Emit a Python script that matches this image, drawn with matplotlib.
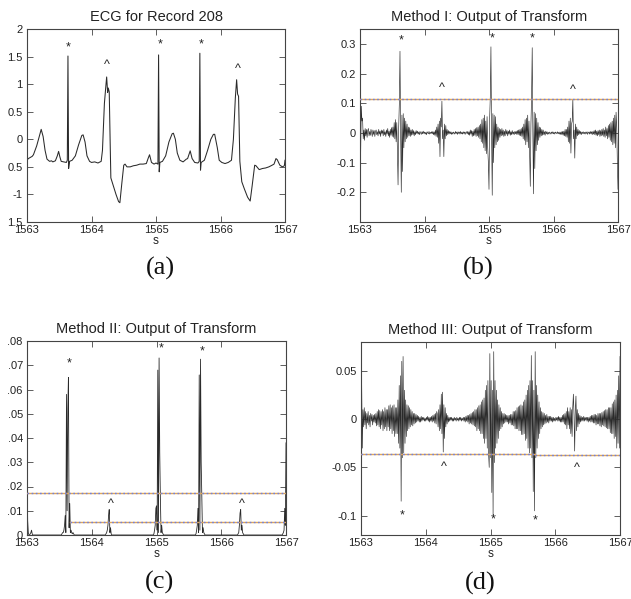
import matplotlib
matplotlib.use("Agg")
import matplotlib.pyplot as plt
import numpy as np

plt.rcParams["font.family"] = ["Liberation Sans", "DejaVu Sans"]

T0 = 1563.0
DT = 0.01  # sample step of the transform outputs (s)

# (a) ECG trace, breakpoints
ecg_t = [1563.00, 1563.02, 1563.05, 1563.08, 1563.10, 1563.15, 1563.19, 1563.22, 1563.25,
         1563.28, 1563.31, 1563.35, 1563.38, 1563.40, 1563.44, 1563.47, 1563.49, 1563.51,
         1563.53, 1563.57, 1563.61, 1563.625, 1563.635, 1563.645, 1563.66, 1563.70,
         1563.75, 1563.80, 1563.85, 1563.87, 1563.90, 1563.93, 1563.97, 1564.00, 1564.05,
         1564.10, 1564.15, 1564.17, 1564.20, 1564.225, 1564.235, 1564.25, 1564.26, 1564.275,
         1564.29, 1564.30, 1564.34, 1564.38, 1564.42, 1564.44, 1564.47, 1564.50, 1564.52,
         1564.55, 1564.60, 1564.65, 1564.70, 1564.75, 1564.80, 1564.85, 1564.88, 1564.90,
         1564.93, 1564.97, 1565.00, 1565.03, 1565.04, 1565.05, 1565.06, 1565.10, 1565.15,
         1565.20, 1565.25, 1565.27, 1565.30, 1565.33, 1565.37, 1565.42, 1565.47, 1565.49,
         1565.53, 1565.56, 1565.60, 1565.65, 1565.67, 1565.68, 1565.69, 1565.70, 1565.75,
         1565.80, 1565.85, 1565.89, 1565.91, 1565.95, 1565.98, 1566.02, 1566.07, 1566.12,
         1566.17, 1566.20, 1566.23, 1566.25, 1566.265, 1566.28, 1566.30, 1566.33, 1566.37,
         1566.42, 1566.46, 1566.49, 1566.53, 1566.55, 1566.60, 1566.65, 1566.70, 1566.75,
         1566.80, 1566.83, 1566.86, 1566.88, 1566.92, 1566.96, 1566.99, 1567.00]
ecg_v = [-0.38, -0.35, -0.33, -0.31, -0.28, -0.12, 0.05, 0.18, 0.05,
         -0.20, -0.36, -0.40, -0.39, -0.41, -0.39, -0.30, -0.22, -0.32,
         -0.40, -0.41, -0.42, -0.38, 1.51, -0.53, -0.40, -0.38,
         -0.30, -0.10, 0.07, 0.08, -0.05, -0.30, -0.40, -0.42, -0.41,
         -0.43, -0.40, -0.20, 0.65, 1.00, 1.13, 0.85, 0.93, 0.86,
         -0.10, -0.70, -0.85, -1.00, -1.13, -1.15, -0.80, -0.47, -0.45,
         -0.50, -0.50, -0.48, -0.47, -0.45, -0.45, -0.44, -0.34, -0.28,
         -0.42, -0.45, -0.43, -0.45, 1.53, -0.59, -0.42, -0.40, -0.30,
         -0.05, 0.10, 0.11, 0.00, -0.25, -0.38, -0.41, -0.36, -0.35,
         -0.21, -0.35, -0.42, -0.43, -0.40, 1.56, -0.56, -0.42, -0.38,
         -0.20, 0.00, 0.09, 0.09, -0.15, -0.38, -0.42, -0.44, -0.42,
         -0.38, 0.00, 0.75, 1.08, 0.82, 0.78, -0.40, -0.77, -0.90,
         -1.05, -1.12, -0.85, -0.47, -0.48, -0.55, -0.53, -0.52, -0.50,
         -0.47, -0.45, -0.35, -0.37, -0.47, -0.50, -0.48, -0.38]

# (b) Method I output, one value per 10 ms from 1563.00
m1_v = [
    -0.24, -0.08, 0.09, 0.04, 0.05, -0.02, 0.01, -0.025, 0.015, -0.01,
    0.012, -0.015, 0.008, 0.015, -0.01, 0.005, -0.008, 0.012, 0.002, -0.012,
    0.01, -0.005, 0.008, -0.012, 0.005, 0.01, -0.006, 0.004, -0.01, 0.012,
    -0.004, 0.006, -0.012, 0.01, -0.002, 0.008, -0.01, 0.012, -0.006, 0.004,
    -0.012, 0.01, -0.004, 0.015, -0.01, 0.006, -0.015, 0.012, -0.008, 0.018,
    -0.012, 0.02, -0.015, 0.035, -0.02, 0.045, -0.03, 0.035, -0.06, -0.175,
    0.02, 0.1, 0.275, 0.0, -0.2, 0.06, -0.13, 0.065, -0.05, 0.05,
    -0.03, 0.04, -0.02, 0.03, -0.015, 0.02, -0.01, 0.018, -0.012, 0.01,
    -0.008, 0.012, -0.006, 0.008, -0.01, 0.004, -0.006, 0.008, -0.002, 0.006,
    -0.004, 0.003, -0.006, 0.005, 0.0, -0.005, 0.004, -0.003, 0.006, -0.002,
    0.003, -0.004, 0.002, -0.006, 0.004, 0.0, -0.003, 0.005, -0.004, 0.002,
    -0.002, 0.004, -0.003, 0.005, -0.006, 0.004, -0.008, 0.01, -0.012, 0.02,
    -0.015, 0.03, -0.035, 0.04, -0.08, 0.05, 0.02, 0.107, -0.02, 0.01,
    -0.08, 0.03, -0.02, 0.025, -0.01, 0.012, -0.006, 0.008, -0.004, 0.005,
    -0.003, 0.004, -0.005, 0.002, -0.004, 0.003, 0.0, -0.004, 0.005, -0.002,
    0.003, -0.005, 0.004, -0.002, 0.003, -0.004, 0.005, -0.003, 0.002, -0.004,
    0.004, -0.002, 0.003, -0.005, 0.002, 0.004, -0.003, 0.005, -0.006, 0.004,
    -0.008, 0.01, -0.004, 0.008, -0.012, 0.006, -0.01, 0.012, -0.008, 0.015,
    -0.012, 0.018, -0.01, 0.02, -0.015, 0.025, -0.02, 0.03, -0.03, 0.045,
    -0.035, 0.05, -0.05, 0.06, -0.06, 0.04, -0.07, 0.055, -0.05, -0.1,
    -0.19, 0.05, 0.12, 0.29, 0.0, -0.21, 0.065, -0.1, 0.06, -0.05,
    0.055, -0.04, 0.03, -0.03, 0.02, -0.025, 0.015, -0.015, 0.012, -0.01,
    0.015, -0.008, 0.01, -0.012, 0.006, -0.01, 0.012, -0.004, 0.008, -0.01,
    0.006, -0.004, 0.01, -0.008, 0.004, -0.006, 0.008, -0.004, 0.003, -0.006,
    0.005, -0.003, 0.006, -0.005, 0.008, -0.006, 0.01, -0.008, 0.012, -0.01,
    0.015, -0.012, 0.02, -0.02, 0.03, -0.025, 0.045, -0.04, 0.05, -0.03,
    0.06, -0.05, 0.04, -0.07, -0.18, 0.03, 0.12, 0.287, 0.0, -0.205,
    0.07, -0.12, 0.065, -0.06, 0.05, -0.04, 0.035, -0.025, 0.02, -0.015,
    0.018, -0.01, 0.012, -0.008, 0.01, -0.006, 0.004, -0.008, 0.006, -0.003,
    0.004, -0.005, 0.002, -0.004, 0.003, 0.0, -0.004, 0.003, -0.002, 0.004,
    -0.003, 0.002, -0.004, 0.003, 0.0, -0.002, 0.004, -0.003, 0.002, -0.004,
    0.003, -0.005, 0.004, -0.006, 0.005, -0.008, 0.006, -0.01, 0.012, -0.012,
    0.012, -0.015, 0.02, -0.03, 0.04, -0.035, 0.05, -0.068, 0.03, 0.04,
    0.113, -0.02, 0.01, -0.085, 0.03, -0.02, 0.02, -0.01, 0.012, -0.006,
    0.008, -0.004, 0.005, -0.006, 0.003, -0.002, 0.004, -0.003, 0.002, -0.004,
    0.003, -0.002, 0.004, -0.005, 0.002, 0.003, -0.004, 0.005, -0.003, 0.004,
    -0.006, 0.005, -0.004, 0.008, -0.006, 0.01, -0.008, 0.006, -0.01, 0.008,
    -0.006, 0.01, -0.012, 0.008, -0.01, 0.012, -0.008, 0.015, -0.012, 0.01,
    -0.015, 0.02, -0.01, 0.015, -0.02, 0.025, -0.015, 0.03, -0.025, 0.035,
    -0.03, 0.04, -0.04, 0.05, -0.035, 0.06, -0.05, 0.07, 0.02, -0.1,
    -0.19,
]

# (c) Method II output, one value per 10 ms from 1563.00
m2_v = [
    0.031, 0.006, 0.001, 0.0, 0.0, 0.0005, 0.001, 0.002, 0.0005, 0.0,
    0.0, 0.0, 0.0, 0.0, 0.0, 0.0, 0.0, 0.0, 0.0, 0.0,
    0.0, 0.0, 0.0, 0.0, 0.0, 0.0, 0.0, 0.0, 0.0, 0.0,
    0.0, 0.0, 0.0, 0.0, 0.0, 0.0, 0.0, 0.0, 0.0, 0.0,
    0.0, 0.0, 0.0, 0.0, 0.0, 0.0, 0.0, 0.0, 0.0, 0.0,
    0.0, 0.0, 0.0, 0.0, 0.0005, 0.001, 0.001, 0.002, 0.004, 0.008,
    0.001, 0.058, 0.01, 0.052, 0.065, 0.003, 0.013, 0.001, 0.002, 0.001,
    0.0005, 0.001, 0.0005, 0.0, 0.0, 0.0, 0.0, 0.0, 0.0, 0.0,
    0.0, 0.0, 0.0, 0.0, 0.0, 0.0, 0.0, 0.0, 0.0, 0.0,
    0.0, 0.0, 0.0, 0.0, 0.0, 0.0, 0.0, 0.0, 0.0, 0.0,
    0.0, 0.0, 0.0, 0.0, 0.0, 0.0, 0.0, 0.0, 0.0, 0.0,
    0.0, 0.0, 0.0, 0.0, 0.0, 0.0, 0.0, 0.0, 0.0, 0.0,
    0.0, 0.0, 0.0005, 0.001, 0.002, 0.004, 0.008, 0.0105, 0.001, 0.003,
    0.0005, 0.0, 0.0, 0.0, 0.0, 0.0, 0.0, 0.0, 0.0, 0.0,
    0.0, 0.0, 0.0, 0.0, 0.0, 0.0, 0.0, 0.0, 0.0, 0.0,
    0.0, 0.0, 0.0, 0.0, 0.0, 0.0, 0.0, 0.0, 0.0, 0.0,
    0.0, 0.0, 0.0, 0.0, 0.0, 0.0, 0.0, 0.0, 0.0, 0.0,
    0.0, 0.0, 0.0, 0.0, 0.0, 0.0, 0.0, 0.0, 0.0, 0.0,
    0.0, 0.0, 0.0, 0.0, 0.0, 0.0, 0.0, 0.0, 0.0, 0.0,
    0.0, 0.0, 0.0, 0.0, 0.0, 0.0, 0.0005, 0.002, 0.004, 0.011,
    0.012, 0.002, 0.068, 0.001, 0.073, 0.034, 0.015, 0.001, 0.004, 0.001,
    0.0005, 0.0, 0.0, 0.0, 0.0, 0.0, 0.0, 0.0, 0.0, 0.0,
    0.0, 0.0, 0.0, 0.0, 0.0, 0.0, 0.0, 0.0, 0.0, 0.0,
    0.0, 0.0, 0.0, 0.0, 0.0, 0.0, 0.0, 0.0, 0.0, 0.0,
    0.0, 0.0, 0.0, 0.0, 0.0, 0.0, 0.0, 0.0, 0.0, 0.0,
    0.0, 0.0, 0.0, 0.0, 0.0, 0.0, 0.0, 0.0, 0.0, 0.0,
    0.0, 0.0005, 0.002, 0.004, 0.011, 0.001, 0.066, 0.002, 0.0725, 0.03,
    0.016, 0.001, 0.003, 0.001, 0.0005, 0.0, 0.0, 0.0, 0.0, 0.0,
    0.0, 0.0, 0.0, 0.0, 0.0, 0.0, 0.0, 0.0, 0.0, 0.0,
    0.0, 0.0, 0.0, 0.0, 0.0, 0.0, 0.0, 0.0, 0.0, 0.0,
    0.0, 0.0, 0.0, 0.0, 0.0, 0.0, 0.0, 0.0, 0.0, 0.0,
    0.0, 0.0, 0.0, 0.0, 0.0, 0.0, 0.0, 0.0, 0.0, 0.0,
    0.0, 0.0, 0.0, 0.0, 0.0, 0.0, 0.0005, 0.001, 0.004, 0.009,
    0.0105, 0.002, 0.004, 0.001, 0.0005, 0.0, 0.0, 0.0, 0.0, 0.0,
    0.0, 0.0, 0.0, 0.0, 0.0, 0.0, 0.0, 0.0, 0.0, 0.0,
    0.0, 0.0, 0.0, 0.0, 0.0, 0.0, 0.0, 0.0, 0.0, 0.0,
    0.0, 0.0, 0.0, 0.0, 0.0, 0.0, 0.0, 0.0, 0.0, 0.0,
    0.0, 0.0, 0.0, 0.0, 0.0, 0.0, 0.0, 0.0, 0.0, 0.0,
    0.0, 0.0, 0.0, 0.0, 0.0, 0.0, 0.0, 0.0, 0.0, 0.0,
    0.0, 0.0, 0.0, 0.0, 0.0, 0.0005, 0.001, 0.002, 0.011, 0.004,
    0.038,
]

# (d) Method III output, one value per 10 ms from 1563.00
m3_v = [
    0.075, 0.04, -0.03, 0.01, -0.008, 0.012, -0.006, 0.008, -0.01, 0.006,
    -0.004, 0.008, -0.006, 0.004, -0.008, 0.006, -0.002, 0.005, -0.006, 0.004,
    -0.003, 0.005, -0.004, 0.006, -0.007, 0.008, -0.006, 0.01, -0.008, 0.009,
    -0.01, 0.008, -0.006, 0.01, -0.012, 0.008, -0.01, 0.012, -0.008, 0.01,
    -0.012, 0.01, -0.008, 0.014, -0.012, 0.015, -0.01, 0.012, -0.015, 0.014,
    -0.012, 0.015, -0.018, 0.012, -0.015, 0.012, -0.015, 0.02, -0.025, 0.035,
    -0.03, 0.045, -0.085, 0.06, -0.04, 0.065, -0.035, 0.03, -0.025, 0.02,
    -0.018, 0.015, -0.012, 0.014, -0.01, 0.012, -0.008, 0.01, -0.006, 0.008,
    -0.007, 0.006, -0.005, 0.006, -0.004, 0.005, -0.003, 0.004, -0.002, 0.003,
    -0.003, 0.002, -0.003, 0.003, -0.002, 0.002, -0.001, 0.002, -0.002, 0.001,
    -0.002, 0.002, -0.001, 0.003, -0.002, 0.002, -0.003, 0.002, -0.002, 0.003,
    -0.003, 0.004, -0.002, 0.005, -0.004, 0.006, -0.005, 0.008, 0.005, -0.008,
    0.01, -0.012, 0.015, -0.01, 0.026, -0.015, 0.028, -0.034, 0.015, -0.02,
    0.012, -0.008, 0.006, -0.005, 0.004, -0.003, 0.002, -0.002, 0.002, -0.001,
    0.002, -0.002, 0.001, -0.002, 0.002, -0.001, 0.001, -0.002, 0.002, -0.001,
    0.001, -0.002, 0.002, -0.001, 0.002, -0.002, 0.001, -0.001, 0.002, -0.002,
    0.002, -0.003, 0.003, -0.002, 0.004, -0.003, 0.004, -0.005, 0.005, -0.004,
    0.006, -0.005, 0.007, -0.006, 0.008, -0.007, 0.01, -0.008, 0.01, -0.012,
    0.012, -0.01, 0.014, -0.012, 0.015, -0.015, 0.018, -0.015, 0.02, -0.02,
    0.022, -0.025, 0.03, -0.02, 0.035, -0.03, 0.04, -0.035, -0.05, 0.068,
    -0.04, 0.04, -0.076, 0.03, -0.1, 0.07, -0.045, 0.04, -0.03, 0.03,
    -0.025, 0.02, -0.02, 0.015, -0.012, 0.012, -0.01, 0.008, -0.008, 0.006,
    -0.005, 0.006, -0.004, 0.005, -0.003, 0.004, -0.003, 0.004, -0.005, 0.004,
    -0.004, 0.005, -0.006, 0.005, -0.006, 0.008, -0.007, 0.008, -0.01, 0.009,
    -0.01, 0.012, -0.01, 0.013, -0.012, 0.014, -0.012, 0.015, -0.016, 0.014,
    -0.016, 0.018, -0.015, 0.02, -0.022, 0.025, -0.02, 0.03, -0.03, 0.035,
    -0.035, 0.04, -0.03, 0.066, -0.04, 0.04, -0.075, 0.03, -0.095, 0.07,
    -0.04, 0.035, -0.03, 0.025, -0.02, 0.018, -0.015, 0.012, -0.01, 0.008,
    -0.008, 0.007, -0.006, 0.006, -0.005, 0.004, -0.004, 0.005, -0.003, 0.003,
    -0.004, 0.003, -0.002, 0.003, -0.002, 0.002, -0.003, 0.002, -0.002, 0.001,
    -0.002, 0.002, -0.001, 0.002, -0.002, 0.003, -0.002, 0.002, -0.003, 0.002,
    -0.003, 0.004, -0.003, 0.005, -0.005, 0.006, -0.006, 0.008, -0.01, 0.012,
    -0.006, 0.008, -0.01, 0.012, -0.015, 0.01, -0.018, 0.012, 0.026, 0.004,
    -0.033, 0.01, 0.024, -0.012, 0.01, -0.008, 0.006, -0.005, 0.004, -0.003,
    0.003, -0.002, 0.002, -0.002, 0.003, -0.002, 0.002, -0.001, 0.002, -0.002,
    0.002, -0.003, 0.002, -0.002, 0.003, -0.003, 0.004, -0.003, 0.004, -0.004,
    0.005, -0.004, 0.005, -0.006, 0.004, -0.005, 0.006, -0.005, 0.006, -0.007,
    0.006, -0.008, 0.007, -0.006, 0.008, -0.007, 0.009, -0.008, 0.01, -0.009,
    0.01, -0.01, 0.012, -0.01, 0.012, -0.014, 0.012, -0.015, 0.016, -0.015,
    0.018, -0.02, 0.02, -0.018, 0.025, -0.03, 0.03, -0.025, 0.045, -0.03,
    0.065,
]

# thresholds drawn as horizontal lines
m1_thr_t = [1563.0, 1567.0]
m1_thr_v = [0.115, 0.115]
m2_hi_t = [1563.0, 1565.69, 1565.69, 1567.0]
m2_hi_v = [0.0172, 0.0172, 0.0175, 0.0175]
m2_lo_t = [1563.66, 1567.0]
m2_lo_v = [0.0052, 0.0052]
m3_thr_t = [1563.0, 1565.69, 1565.69, 1567.0]
m3_thr_v = [-0.0362, -0.0362, -0.0372, -0.0372]

# beat markers: * normal, ^ ventricular
a_star_t, a_star_v = [1563.645, 1565.065, 1565.694], [1.745, 1.79, 1.79]
a_car_t, a_car_v = [1564.239, 1566.262], [1.41, 1.35]
b_star_t, b_star_v = [1563.635, 1565.054, 1565.674], [0.324, 0.330, 0.333]
b_car_t, b_car_v = [1564.265, 1566.303], [0.163, 0.158]
c_star_t, c_star_v = [1563.653, 1565.07, 1565.698], [0.0723, 0.0785, 0.0774]
c_car_t, c_car_v = [1564.297, 1566.316], [0.0145, 0.0145]
d_star_t, d_star_v = [1563.643, 1565.046, 1565.689], [-0.0955, -0.100, -0.101]
d_car_t, d_car_v = [1564.285, 1566.332], [-0.0459, -0.0466]

x_ticks = [1563, 1564, 1565, 1566, 1567]
a_yticks = [-1.5, -1, -0.5, 0, 0.5, 1, 1.5, 2]
a_ylabels = ["1.5", "-1", "0.5", "0", "0.5", "1", "1.5", "2"]
b_yticks = [-0.2, -0.1, 0, 0.1, 0.2, 0.3]
b_ylabels = ["-0.2", "-0.1", "0", "0.1", "0.2", "0.3"]
c_yticks = [0, 0.01, 0.02, 0.03, 0.04, 0.05, 0.06, 0.07, 0.08]
c_ylabels = ["0", ".01", ".02", ".03", ".04", ".05", ".06", ".07", ".08"]
d_yticks = [-0.1, -0.05, 0, 0.05]
d_ylabels = ["-0.1", "-0.05", "0", "0.05"]

W, H = 631, 599
SIG = "#2a2a2a"
TXT = "#222222"


def setup(rect, title, ylim, yticks, ylabels):
    l, t, r, b = rect
    ax = fig.add_axes([l / W, 1 - b / H, (r - l) / W, (b - t) / H])
    ax.set_xlim(1563, 1567)
    ax.set_ylim(*ylim)
    ax.set_xticks(x_ticks)
    ax.set_xticklabels([str(v) for v in x_ticks])
    ax.set_yticks(yticks)
    ax.set_yticklabels(ylabels)
    ax.tick_params(direction="in", top=True, right=True, length=4, width=0.6,
                   labelsize=8, labelcolor=TXT, color="#444444")
    ax.tick_params(axis="x", pad=2)
    ax.tick_params(axis="y", pad=3)
    for s in ax.spines.values():
        s.set_linewidth(0.8)
        s.set_color("#444444")
    ax.set_title(title, fontsize=10.5, color=TXT, pad=6)
    ax.set_xlabel("s", fontsize=8.5, color=TXT, labelpad=0)
    return ax


def threshold(ax, t, v):
    ax.plot(t, v, color="#e0a85a", lw=1.0, zorder=3)
    ax.plot(t, v, color="#6f7fe0", lw=1.0, dashes=(1.2, 1.8), zorder=4)


def marks(ax, st, sv, ct, cv):
    for x, y in zip(st, sv):
        ax.annotate("*", (x, y), xytext=(0, -5), textcoords="offset points",
                    ha="center", va="baseline", fontsize=9, color=TXT,
                    annotation_clip=False)
    for x, y in zip(ct, cv):
        ax.annotate("^", (x, y), xytext=(0, -5), textcoords="offset points",
                    ha="center", va="baseline", fontsize=9, color=TXT,
                    annotation_clip=False)


fig = plt.figure(figsize=(W / 100, H / 100), dpi=100)

ax_a = setup((27, 29, 285, 222), "ECG for Record 208", (-1.5, 2), a_yticks, a_ylabels)
ax_a.plot(ecg_t, ecg_v, color=SIG, lw=0.75)
marks(ax_a, a_star_t, a_star_v, a_car_t, a_car_v)

ax_b = setup((360, 29, 618, 222), "Method I: Output of Transform", (-0.3, 0.35),
             b_yticks, b_ylabels)
ax_b.plot(T0 + DT * np.arange(len(m1_v)), m1_v, color=SIG, lw=0.45)
threshold(ax_b, m1_thr_t, m1_thr_v)
marks(ax_b, b_star_t, b_star_v, b_car_t, b_car_v)

ax_c = setup((27, 341, 286, 535), "Method II: Output of Transform", (0, 0.08),
             c_yticks, c_ylabels)
ax_c.plot(T0 + DT * np.arange(len(m2_v)), m2_v, color=SIG, lw=0.6)
threshold(ax_c, m2_hi_t, m2_hi_v)
threshold(ax_c, m2_lo_t, m2_lo_v)
marks(ax_c, c_star_t, c_star_v, c_car_t, c_car_v)

ax_d = setup((361, 342, 620, 535), "Method III: Output of Transform", (-0.12, 0.08),
             d_yticks, d_ylabels)
ax_d.plot(T0 + DT * np.arange(len(m3_v)), m3_v, color=SIG, lw=0.45)
threshold(ax_d, m3_thr_t, m3_thr_v)
marks(ax_d, d_star_t, d_star_v, d_car_t, d_car_v)

for label, x, y in [("(a)", 160, 268), ("(b)", 478, 268), ("(c)", 160, 582), ("(d)", 480, 583)]:
    fig.text(x / W, 1 - y / H, label, family=["Liberation Serif", "DejaVu Serif"],
             fontsize=19, ha="center", va="center", color="#111111")

fig.savefig("out.png", dpi=100)
plt.close(fig)
